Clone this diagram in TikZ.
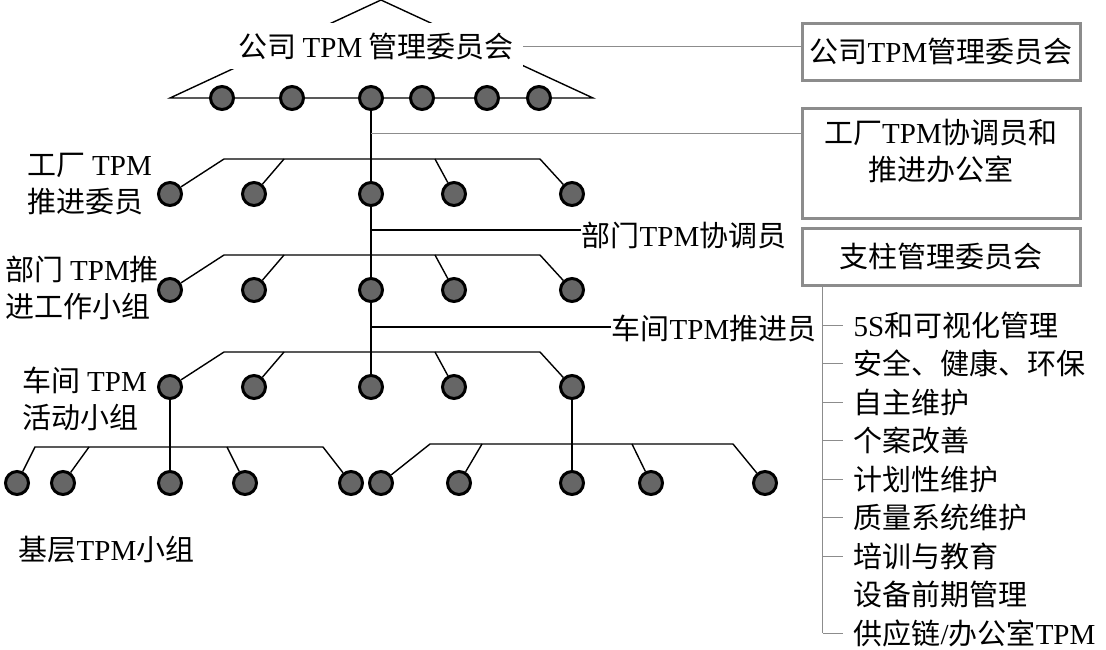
\documentclass[tikz,border=0pt]{standalone}
\usepackage{fontspec}
\setmainfont{Noto Sans CJK SC}
\newfontfamily\latin{Liberation Serif}
\newcommand\tpm{{\latin TPM}}
\usetikzlibrary{positioning}

\begin{document}
\begin{tikzpicture}[
  x=0.5pt, y=-0.5pt, line width=0.7pt,
  dot/.style={circle, draw, line width=1.5pt, fill=black!60,
              minimum size=11.5pt, inner sep=0pt},
  lbl/.style={inner sep=0pt, align=left,
              font=\fontsize{14.5}{18.5}\selectfont},
  pbox/.style={draw=black!45, line width=1.5pt, minimum width=139pt,
               inner sep=0pt, font=\fontsize{14.5}{18.5}\selectfont},
  link/.style={black!45, line width=0.5pt}
]
  \useasboundingbox (0,0) rectangle (1106,649);

  % company committee roof
  \coordinate (apex) at (381,0);
  \coordinate (tl) at (170,98);
  \coordinate (tr) at (593,98);
  \draw (tl) -- (apex) -- (tr) -- cycle;
  \node[lbl, fill=white, minimum width=146.5pt, minimum height=23pt]
    (top) at (376,46) {公司 \tpm\ 管理委员会};
  \foreach \i/\x in {1/222, 2/292, 3/371, 4/422, 5/487, 6/539}
    \node[dot] (n1\i) at (\x,98) {};

  % plant, department and workshop rows
  \foreach \r/\cy/\by in {2/194/159, 3/290/255, 4/387/352} {
    \foreach \i/\x in {1/170, 2/254, 3/371, 4/454, 5/572}
      \node[dot] (n\r\i) at (\x,\cy) {};
    \coordinate (b\r-1) at (224,\by);
    \coordinate (b\r-2) at (284,\by);
    \coordinate (b\r-3) at (435,\by);
    \coordinate (b\r-4) at (540,\by);
    \draw (n\r1) -- (b\r-1) -- (b\r-4) -- (n\r5);
    \draw (n\r2) -- (b\r-2);
    \draw (n\r4) -- (b\r-3);
  }
  \draw (n13) -- (n23) -- (n33) -- (n43);

  % grassroots groups
  \foreach \i/\x in {1/17, 2/63, 3/170, 4/245, 5/351, 6/381, 7/459, 8/572,
                     9/651, 10/765}
    \node[dot] (g\i) at (\x,483) {};
  \coordinate (l1) at (35,447);
  \coordinate (l2) at (89,447);
  \coordinate (l3) at (227,447);
  \coordinate (l4) at (323,447);
  \coordinate (r1) at (430,444);
  \coordinate (r2) at (482,444);
  \coordinate (r3) at (632,444);
  \coordinate (r4) at (733,444);
  \draw (g1) -- (l1) -- (l4) -- (g5);
  \draw (g2) -- (l2);
  \draw (g4) -- (l3);
  \draw (n41) -- (g3);
  \draw (g6) -- (r1) -- (r4) -- (g10);
  \draw (g7) -- (r2);
  \draw (g9) -- (r3);
  \draw (n45) -- (g8);

  % left labels
  \node[lbl, anchor=west] (plant) at (27,184) {工厂 \tpm\\推进委员};
  \node[lbl, anchor=west] (dept) at (5,288) {部门 \tpm 推\\进工作小组};
  \node[lbl, anchor=west] (shop) at (22,399) {车间 \tpm\\活动小组};
  \node[lbl, anchor=west] (base) at (18,550) {基层\tpm 小组};

  % right boxes
  \node[pbox, minimum height=28.5pt] (box1) at (941,51.5) {公司\tpm 管理委员会};
  \node[pbox, minimum height=55pt] (box2) at (941,163) {};
  \node[lbl, align=center] (box2t) at (941,151) {工厂\tpm 协调员和\\推进办公室};
  \node[pbox, minimum height=28.5pt] (box3) at (941,256.5) {支柱管理委员会};

  % coordinators off the spine
  \node[lbl, anchor=west] (coord) at (581,235) {部门\tpm 协调员};
  \node[lbl, anchor=west] (drive) at (611,328) {车间\tpm 推进员};
  \coordinate (s1) at (371,133);
  \coordinate (s2) at (371,230);
  \coordinate (s3) at (371,327);
  \draw[link] (top.east) -- (top.east -| box1.west);
  \draw[link] (s1) -- (s1 -| box2.west);
  \draw (s2) -- (s2 -| coord.west);
  \draw (s3) -- (s3 -| drive.west);

  % pillars
  \foreach \k/\y/\t in {1/325/{{\latin 5S}和可视化管理}, 2/363.5/{安全、健康、环保},
      3/402/{自主维护}, 4/440.5/{个案改善}, 5/479/{计划性维护},
      6/517.5/{质量系统维护}, 7/556/{培训与教育}, 8/594.5/{设备前期管理},
      9/633/{供应链{\latin /}办公室\tpm}}
    \node[lbl, anchor=west] (item\k) at (853,\y) {\t};
  \coordinate (sp) at ([xshift=11pt]box3.south west);
  \draw[link] (sp) -- (sp |- item9.west);
  \foreach \k in {1,2,3,4,5,6,7,9}
    \draw[link] (sp |- item\k.west) -- ([xshift=-5pt]item\k.west);
\end{tikzpicture}
\end{document}
